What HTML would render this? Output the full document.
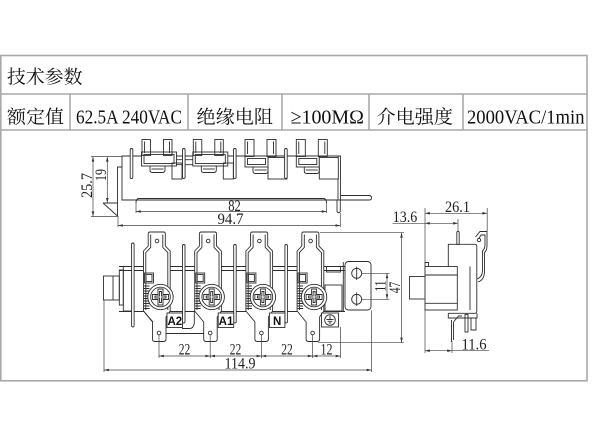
<!DOCTYPE html>
<html><head><meta charset="utf-8">
<style>
html,body{margin:0;padding:0;background:#fff;width:600px;height:424px;overflow:hidden}
svg{display:block}
</style></head><body>
<svg width="600" height="424" viewBox="0 0 600 424" xmlns="http://www.w3.org/2000/svg">
<defs>
<marker id="ar" viewBox="0 0 6 4" markerWidth="5.5" markerHeight="3.2" refX="6" refY="2" orient="auto-start-reverse" markerUnits="userSpaceOnUse"><path d="M0,0.4 L6,2 L0,3.6z" fill="#333"/></marker>
<g id="term">
  <path fill="#fff" d="M-7.5,232 H6 Q7.8,232 7.8,234 V246 L12.7,251 V311 L8.5,317 V339 Q8.5,341.5 6,341.5 H-2.5 Q-5,341.5 -5,339 V322 L-14,311 V251 L-9.3,246 V234 Q-9.3,232 -7.5,232 Z"/>
  <path d="M-6.8,234.5 V247.5 L-11.7,252.5 V310 M5.3,234.5 V247.5 L10.3,252.5 V310"/>
  <circle cx="-0.5" cy="241" r="1.8"/>
  <circle cx="1.5" cy="333" r="1.8"/>
  <rect x="-13" y="273" width="9" height="10"/>
  <rect x="-11.5" y="274.5" width="6" height="7"/>
  <path d="M-13.5,286 H-8 M-13.5,288.5 H-8 M-13.5,291 H-8 M-13.5,293.5 H-8 M-13.5,296 H-8 M-13.5,298.5 H-8 M-13.5,301 H-8 M-13.5,303.5 H-8 M-13.5,306 H-8 M-13.5,308.5 H-8"/>
  <circle cx="3" cy="297" r="12.7" fill="#fff"/>
  <circle cx="3" cy="297" r="9.8"/>
  <path d="M0.5,289 H5.5 V294.5 H11 V299.5 H5.5 V305 H0.5 V299.5 H-5 V294.5 H0.5 Z"/>
  <path d="M2,291.5 H4 V296 H8.5 V298 H4 V302.5 H2 V298 H-2.5 V296 H2 Z"/>
</g>
<g id="tg">
  <rect x="141.5" y="152" width="35" height="14" fill="#fff"/>
  <rect x="144" y="154.5" width="30" height="9"/>
  <rect x="142" y="139.5" width="8.5" height="16"/>
  <line x1="144.5" y1="141.5" x2="144.5" y2="153"/>
  <rect x="163.5" y="139.5" width="8.5" height="16"/>
  <line x1="169.5" y1="141.5" x2="169.5" y2="153"/>
  <path d="M150,166 V170 Q150,172.5 152.5,172.5 H162.5 Q165,172.5 165,170 V166"/>
  <line x1="151.5" y1="169" x2="163.5" y2="169"/>
  <rect x="172" y="163" width="10" height="16"/>
</g>
<g id="tg2">
  <rect x="245" y="156" width="23" height="11" fill="#fff"/>
  <rect x="247.5" y="158.5" width="18" height="6"/>
  <rect x="245" y="139.5" width="9" height="17"/>
  <line x1="247.5" y1="141.5" x2="247.5" y2="154"/>
  <rect x="267" y="139.5" width="9" height="17"/>
  <line x1="273.5" y1="141.5" x2="273.5" y2="154"/>
  <rect x="268" y="157.5" width="19" height="21.5" fill="#fff"/>
  <path d="M253,167 V171 Q253,173.5 255.5,173.5 H265.5 Q268,173.5 268,171 V167"/>
  <line x1="254.5" y1="170" x2="266.5" y2="170"/>
</g>
</defs>
<rect width="600" height="424" fill="#fff"/>

<!-- TABLE -->
<g fill="none" stroke="#a8a8a8" stroke-width="1.6">
<rect x="0.8" y="55.5" width="586.2" height="325.3"/>
<line x1="1" y1="94" x2="587" y2="94"/>
<line x1="1" y1="130" x2="587" y2="130"/>
<line x1="70" y1="94" x2="70" y2="130"/>
<line x1="188" y1="94" x2="188" y2="130"/>
<line x1="282" y1="94" x2="282" y2="130"/>
<line x1="369" y1="94" x2="369" y2="130"/>
<line x1="463" y1="94" x2="463" y2="130"/>
</g>
<g font-family="'Liberation Serif','Noto Serif CJK SC',serif" fill="#111">
<text x="7" y="83.5" font-size="18.5" textLength="75.5" lengthAdjust="spacingAndGlyphs" font-family="'Noto Serif CJK SC',serif">技术参数</text>
<text x="7" y="123.5" font-size="18.5" textLength="57" lengthAdjust="spacingAndGlyphs" font-family="'Noto Serif CJK SC',serif">额定值</text>
<text x="76" y="123.3" font-size="20.5" textLength="106" lengthAdjust="spacingAndGlyphs">62.5A 240VAC</text>
<text x="196.5" y="123.5" font-size="18.5" textLength="76.5" lengthAdjust="spacingAndGlyphs" font-family="'Noto Serif CJK SC',serif">绝缘电阻</text>
<text x="290.5" y="123.3" font-size="20.5" textLength="73.5" lengthAdjust="spacingAndGlyphs">≥100MΩ</text>
<text x="376.5" y="123.5" font-size="18.5" textLength="76.5" lengthAdjust="spacingAndGlyphs" font-family="'Noto Serif CJK SC',serif">介电强度</text>
<text x="467" y="123.3" font-size="20.5" textLength="117.5" lengthAdjust="spacingAndGlyphs">2000VAC/1min</text>
</g>

<!-- DRAWING LINES -->
<g fill="none" stroke="#2e2e2e" stroke-width="0.9">

<!-- TOP VIEW -->
<path d="M122,156 H340.5 V200 H122 Z"/>
<line x1="338" y1="156" x2="338" y2="200"/>
<path d="M122,167 H117.5 V216"/>
<path d="M103,203 H117.5 M103,203 L117.5,216"/>
<path d="M340.5,195.5 H369 Q371.5,195.5 371.5,197.7 Q371.5,200 369,200 H340.5"/>
<path d="M337,200 V211.5 Q338.7,214 340.3,211.5 V200"/>
<path d="M136,203 Q136,198.5 139,198.5 H323.5 Q326.5,198.5 326.5,203"/>
<use href="#tg"/>
<use href="#tg" transform="translate(51.3,0)"/>
<path d="M176.5,159.7 H192.8 M176.5,164.7 H192.8"/>
<use href="#tg2"/>
<use href="#tg2" transform="translate(51.3,0)"/>
<rect x="130.2" y="148.5" width="2.6" height="30" rx="1.2" fill="#fff"/>
<rect x="182.5" y="148.5" width="2.6" height="30" rx="1.2" fill="#fff"/>
<rect x="233.5" y="148.5" width="2.6" height="30" rx="1.2" fill="#fff"/>
<rect x="284.6" y="148.5" width="2.6" height="30" rx="1.2" fill="#fff"/>

<!-- FRONT VIEW -->
<line x1="119" y1="266.5" x2="345" y2="266.5"/>
<line x1="119" y1="270.5" x2="345" y2="270.5"/>
<line x1="119" y1="311.5" x2="345" y2="311.5"/>
<rect x="103.5" y="276" width="15.8" height="24"/>
<line x1="113" y1="276" x2="113" y2="300"/>
<rect x="119.3" y="270" width="4" height="35"/>
<rect x="123.3" y="266.5" width="8.7" height="44.5"/>
<rect x="326.5" y="266.5" width="14" height="5.5"/>
<rect x="325" y="285" width="17" height="26"/>
<line x1="343.3" y1="262" x2="343.3" y2="311"/>
<rect x="345" y="261.5" width="26" height="48.5" rx="3.5" fill="#fff"/>
<circle cx="356.7" cy="273.3" r="5"/>
<circle cx="356.7" cy="299.3" r="5"/>
<path d="M356.7,266.5 V280 M356.7,292.5 V306"/>

<use href="#term" transform="translate(157.5,0)"/>
<use href="#term" transform="translate(208.7,0)"/>
<use href="#term" transform="translate(259.9,0)"/>
<use href="#term" transform="translate(311.1,0)"/>

<path d="M166,333.5 H203.5"/>
<path d="M182,328.5 H190 Q193.5,328.5 194.3,323 V312"/>
<path d="M143.5,311 L153,322"/>

<rect x="131.6" y="243" width="2.5" height="84" rx="1.2" fill="#fff"/>
<rect x="182.5" y="244.5" width="2.5" height="78.5" rx="1.2" fill="#fff"/>
<rect x="233.7" y="244.5" width="2.5" height="78.5" rx="1.2" fill="#fff"/>
<rect x="284.9" y="244.5" width="2.5" height="78.5" rx="1.2" fill="#fff"/>

<rect x="167" y="313" width="15.5" height="14.5" fill="#fff"/>
<rect x="218.2" y="313" width="15.5" height="14.5" fill="#fff"/>
<rect x="269.4" y="313" width="15.5" height="14.5" fill="#fff"/>
<rect x="321.5" y="313" width="17" height="14" fill="#fff"/>
<circle cx="330" cy="320" r="5.3"/>
<path d="M330,315.5 V319.5 M326.5,319.5 H333.5 M327.7,321.3 H332.3 M328.8,323 H331.2"/>

<!-- RIGHT VIEW -->
<path d="M448.3,266.5 V244.3 H475 Q476.8,244.3 476.8,246.5 V311 Q476.8,313.3 474.5,313.3 H448.3"/>
<line x1="470" y1="266.5" x2="470" y2="310"/>
<rect x="409.5" y="276.5" width="15.5" height="22.5" fill="#fff"/>
<rect x="425" y="266.5" width="32.3" height="43.5" fill="#fff"/>
<line x1="425" y1="275" x2="457.3" y2="275"/>
<line x1="425" y1="303.3" x2="457.3" y2="303.3"/>
<path d="M425,266.5 V262.5 H428.5 V266.5"/>
<rect x="456.8" y="231.5" width="2.4" height="13" rx="1"/>
<path d="M475.5,237 L480,231.5 H487 V246 Q487,250 484.5,252.5 V271 Q484.5,280 478,282"/>
<path d="M478.5,239 L481,235 H485 V245 Q485,248.5 482.5,251 V270 Q482.5,277 477,279"/>
<circle cx="479" cy="240" r="1.7"/>
<path d="M448.3,313.3 V318 H477 V313.3"/>
<path d="M451.5,320 V342 M453.5,322 V340"/>
<path d="M453.5,322 L458.5,316 H462"/>
<rect x="465" y="314.5" width="3" height="17.5"/>
<path d="M471,318 V330 H476 V318"/>
</g>

<!-- DIMENSIONS -->
<g fill="none" stroke="#444" stroke-width="0.7">
<path d="M91,156.5 H122 M91,216.5 H118 M105,203 H103"/>
<line x1="93" y1="156.8" x2="93" y2="216.2" marker-start="url(#ar)" marker-end="url(#ar)"/>
<line x1="107.3" y1="156.8" x2="107.3" y2="202.8" marker-start="url(#ar)" marker-end="url(#ar)"/>
<path d="M136,203 V213 M326.5,203 V213"/>
<line x1="136" y1="211.5" x2="326.5" y2="211.5" marker-start="url(#ar)" marker-end="url(#ar)"/>
<path d="M118,216 V227 M340.3,213 V227"/>
<line x1="118" y1="225.5" x2="340.3" y2="225.5" marker-start="url(#ar)" marker-end="url(#ar)"/>
<path d="M320,232.7 H404 M318,342.7 H404"/>
<line x1="401.5" y1="233" x2="401.5" y2="342.4" marker-start="url(#ar)" marker-end="url(#ar)"/>
<path d="M361.7,273.3 H389.5 M361.7,299.3 H389.5"/>
<line x1="387" y1="273.5" x2="387" y2="299.1" marker-start="url(#ar)" marker-end="url(#ar)"/>
<path d="M159,335 V358 M210.2,335 V358 M261.4,335 V358 M312.6,335 V358 M340.5,327 V358"/>
<line x1="159" y1="356" x2="210.2" y2="356" marker-start="url(#ar)" marker-end="url(#ar)"/>
<line x1="210.2" y1="356" x2="261.4" y2="356" marker-start="url(#ar)" marker-end="url(#ar)"/>
<line x1="261.4" y1="356" x2="312.6" y2="356" marker-start="url(#ar)" marker-end="url(#ar)"/>
<line x1="312.6" y1="356" x2="340.5" y2="356" marker-start="url(#ar)" marker-end="url(#ar)"/>
<path d="M104,300 V372 M371.5,310.5 V372"/>
<line x1="104" y1="370" x2="371.5" y2="370" marker-start="url(#ar)" marker-end="url(#ar)"/>
<path d="M425,208 V353 M487.2,208 V231.5"/>
<line x1="425" y1="213.3" x2="487.2" y2="213.3" marker-start="url(#ar)" marker-end="url(#ar)"/>
<path d="M458,219 V231.5 M392.5,223.3 H425"/>
<line x1="458" y1="223.3" x2="425" y2="223.3" marker-start="url(#ar)" marker-end="url(#ar)"/>
<path d="M452,341 V353 M452,350.7 H489"/>
<line x1="425" y1="350.7" x2="452" y2="350.7" marker-start="url(#ar)" marker-end="url(#ar)"/>
</g>

<g font-family="'Liberation Serif',serif" font-size="15.5" fill="#222" text-anchor="middle">
<text transform="translate(92,185.5) rotate(-90)" textLength="25" lengthAdjust="spacingAndGlyphs">25.7</text>
<text transform="translate(106,175) rotate(-90)" textLength="12" lengthAdjust="spacingAndGlyphs">19</text>
<text x="234.5" y="210.8" textLength="12.5" lengthAdjust="spacingAndGlyphs">82</text>
<text x="230.5" y="224" textLength="26" lengthAdjust="spacingAndGlyphs">94.7</text>
<text x="184.5" y="354.5" textLength="11.5" lengthAdjust="spacingAndGlyphs">22</text>
<text x="235.5" y="354.5" textLength="11.5" lengthAdjust="spacingAndGlyphs">22</text>
<text x="287" y="354.5" textLength="11.5" lengthAdjust="spacingAndGlyphs">22</text>
<text x="326.5" y="354.5" textLength="12" lengthAdjust="spacingAndGlyphs">12</text>
<text x="240" y="368.3" textLength="31" lengthAdjust="spacingAndGlyphs">114.9</text>
<text transform="translate(385.7,286) rotate(-90)" textLength="11" lengthAdjust="spacingAndGlyphs">11</text>
<text transform="translate(400,287.5) rotate(-90)" textLength="11.5" lengthAdjust="spacingAndGlyphs">47</text>
<text x="457.5" y="211.8" textLength="25" lengthAdjust="spacingAndGlyphs">26.1</text>
<text x="405" y="221.8" textLength="24.5" lengthAdjust="spacingAndGlyphs">13.6</text>
<text x="474" y="349.3" textLength="25" lengthAdjust="spacingAndGlyphs">11.6</text>
</g>
<g font-family="'Liberation Sans',sans-serif" font-size="11.5" font-weight="bold" fill="#111" text-anchor="middle">
<text x="174.8" y="325">A2</text>
<text x="226" y="325">A1</text>
<text x="277.2" y="325">N</text>
</g>
</svg>
</body></html>
